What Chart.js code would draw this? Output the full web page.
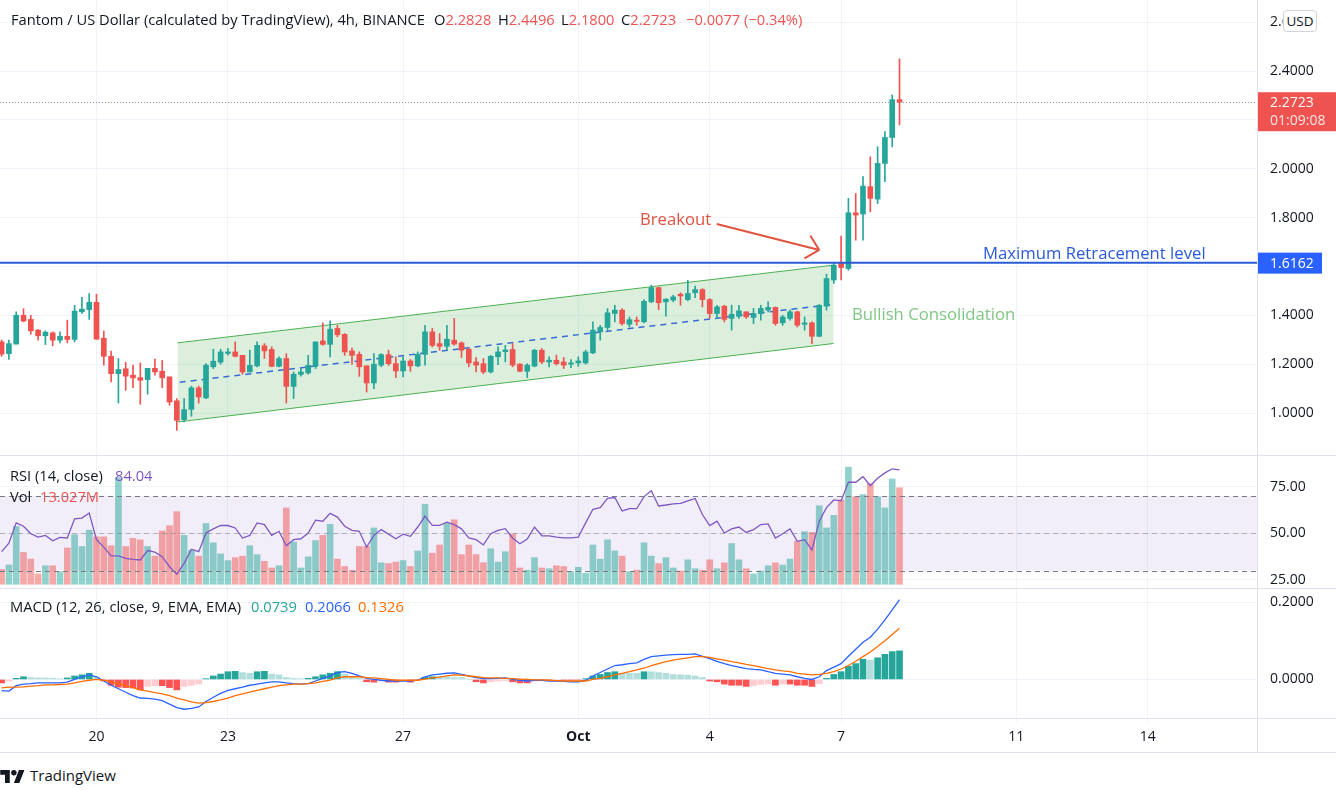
<!DOCTYPE html>
<html>
<head>
<meta charset="utf-8">
<title>Fantom / US Dollar 4h</title>
<script src="https://cdn.jsdelivr.net/npm/chart.js@4.4.0/dist/chart.umd.min.js"></script>
<style>
  html, body { margin: 0; padding: 0; background: #fff; }
  body { width: 1336px; height: 790px; position: relative; overflow: hidden;
         font-family: "Open Sans", sans-serif; color: #131722; }
  canvas { position: absolute; left: 0; }
  .t { position: absolute; white-space: nowrap; line-height: 20px; font-size: 14.7px; }
  .note { font-size: 16.7px; }
  .red { color: #ef5350; }
  .hl { position: absolute; left: 0; width: 1336px; height: 1px; background: #e0e3eb; }
  .vl { position: absolute; left: 1257px; top: 0; width: 1px; height: 752px; background: #e0e3eb; }
  #usd { position: absolute; left: 1283px; top: 10px; width: 32px; height: 20px; background: #fff;
         border: 1px solid #d1d4dc; border-radius: 4px; font-size: 13.5px; line-height: 20px; text-align: center; }
</style>
</head>
<body>
<canvas id="priceChart" width="1336" height="455" style="top:0"></canvas>
<canvas id="rsiChart" width="1336" height="133" style="top:455px"></canvas>
<canvas id="macdChart" width="1336" height="164" style="top:588px"></canvas>

<div class="hl" style="top:455px"></div>
<div class="hl" style="top:588px"></div>
<div class="hl" style="top:718px"></div>
<div class="hl" style="top:752px"></div>
<div class="vl"></div>
<div id="usd">USD</div>

<span class="t" style="left:11px;top:9px">Fantom / US Dollar (calculated by TradingView), 4h, BINANCE</span>
<span class="t" style="left:434px;top:9px">O<span class="red">2.2828</span></span>
<span class="t" style="left:498px;top:9px">H<span class="red">2.4496</span></span>
<span class="t" style="left:561px;top:9px">L<span class="red">2.1800</span></span>
<span class="t" style="left:621px;top:9px">C<span class="red">2.2723</span></span>
<span class="t red" style="left:686px;top:9px">&minus;0.0077 (&minus;0.34%)</span>

<span class="t note" style="left:640px;top:209px;color:#e0533f">Breakout</span>
<span class="t note" style="left:983px;top:243px;color:#2a5bd7">Maximum Retracement level</span>
<span class="t note" style="left:852px;top:304px;color:#81c784">Bullish Consolidation</span>

<span class="t" style="left:10px;top:465px">RSI (14, close)</span>
<span class="t" style="left:115px;top:465px;color:#7e57c2">84.04</span>
<span class="t" style="left:10px;top:486px">Vol</span>
<span class="t red" style="left:40px;top:486px">13.027M</span>
<span class="t" style="left:10px;top:596px">MACD (12, 26, close, 9, EMA, EMA)</span>
<span class="t" style="left:251px;top:596px;color:#26a69a">0.0739</span>
<span class="t" style="left:305px;top:596px;color:#2962ff">0.2066</span>
<span class="t" style="left:358px;top:596px;color:#ff6d00">0.1326</span>

<svg style="position:absolute;left:0;top:768px" width="25" height="15" viewBox="0 0 36 22">
  <path d="M14 22H7V10H0V3h14v19zM28 22h-8l7.5-19h8L28 22z" fill="#131722"/>
  <circle cx="20" cy="7" r="4" fill="#131722"/>
</svg>
<span class="t" style="left:30px;top:765px;font-size:15px">TradingView</span>

<script>
// 4h candles, index 0 = 20 Sep 00:00
var startIdx = -13;
var opens = [
  1.292, 1.244, 1.283, 1.401, 1.384, 1.340, 1.317, 1.329, 1.299, 1.315,
  1.302, 1.415, 1.424, 1.454, 1.307, 1.233, 1.162, 1.182, 1.156, 1.146,
  1.138, 1.184, 1.172, 1.149, 1.051, 0.974, 1.016, 1.104, 1.063, 1.190,
  1.209, 1.245, 1.251, 1.237, 1.169, 1.194, 1.276, 1.261, 1.192, 1.224,
  1.110, 1.159, 1.165, 1.192, 1.296, 1.282, 1.347, 1.323, 1.255, 1.241,
  1.194, 1.124, 1.197, 1.240, 1.203, 1.173, 1.214, 1.194, 1.241, 1.333,
  1.285, 1.274, 1.299, 1.288, 1.262, 1.210, 1.203, 1.169, 1.231, 1.252,
  1.261, 1.201, 1.172, 1.193, 1.258, 1.210, 1.217, 1.210, 1.201, 1.206,
  1.206, 1.247, 1.333, 1.351, 1.408, 1.422, 1.364, 1.381, 1.374, 1.456,
  1.514, 1.456, 1.463, 1.487, 1.465, 1.493, 1.506, 1.465, 1.408, 1.438,
  1.388, 1.397, 1.415, 1.392, 1.408, 1.422, 1.433, 1.370, 1.388, 1.415,
  1.364, 1.370, 1.315, 1.438, 1.545, 1.615, 1.592, 1.820, 1.815, 1.927,
  1.876, 2.022, 2.128, 2.2828
];
var highs = [
  1.300, 1.299, 1.415, 1.428, 1.401, 1.343, 1.337, 1.333, 1.333, 1.381,
  1.442, 1.474, 1.490, 1.487, 1.336, 1.254, 1.224, 1.209, 1.197, 1.206,
  1.184, 1.222, 1.216, 1.149, 1.060, 1.060, 1.111, 1.111, 1.203, 1.262,
  1.262, 1.265, 1.292, 1.237, 1.258, 1.292, 1.285, 1.272, 1.231, 1.244,
  1.169, 1.183, 1.237, 1.292, 1.370, 1.378, 1.360, 1.326, 1.267, 1.251,
  1.194, 1.244, 1.244, 1.258, 1.231, 1.231, 1.220, 1.251, 1.360, 1.347,
  1.326, 1.360, 1.388, 1.292, 1.265, 1.228, 1.224, 1.237, 1.272, 1.278,
  1.285, 1.203, 1.203, 1.262, 1.265, 1.231, 1.238, 1.228, 1.220, 1.231,
  1.258, 1.374, 1.360, 1.428, 1.442, 1.428, 1.394, 1.394, 1.465, 1.524,
  1.516, 1.469, 1.483, 1.493, 1.544, 1.520, 1.510, 1.469, 1.442, 1.442,
  1.442, 1.442, 1.415, 1.429, 1.442, 1.456, 1.435, 1.401, 1.422, 1.418,
  1.394, 1.374, 1.445, 1.569, 1.613, 1.725, 1.879, 1.899, 1.968, 2.049,
  2.090, 2.152, 2.302, 2.4496
];
var lows = [
  1.233, 1.220, 1.283, 1.374, 1.323, 1.299, 1.281, 1.276, 1.288, 1.288,
  1.292, 1.408, 1.384, 1.303, 1.197, 1.128, 1.042, 1.094, 1.105, 1.037,
  1.078, 1.156, 1.105, 1.033, 0.930, 0.965, 0.988, 1.042, 1.060, 1.183,
  1.201, 1.238, 1.231, 1.160, 1.169, 1.190, 1.224, 1.190, 1.190, 1.042,
  1.060, 1.152, 1.160, 1.183, 1.278, 1.231, 1.313, 1.237, 1.201, 1.151,
  1.087, 1.101, 1.190, 1.196, 1.146, 1.149, 1.172, 1.190, 1.197, 1.271,
  1.258, 1.258, 1.278, 1.228, 1.190, 1.169, 1.162, 1.165, 1.199, 1.210,
  1.190, 1.169, 1.146, 1.190, 1.203, 1.190, 1.197, 1.183, 1.187, 1.192,
  1.201, 1.244, 1.299, 1.340, 1.374, 1.360, 1.353, 1.360, 1.370, 1.452,
  1.424, 1.397, 1.456, 1.442, 1.460, 1.473, 1.435, 1.388, 1.388, 1.374,
  1.340, 1.388, 1.388, 1.367, 1.381, 1.415, 1.360, 1.360, 1.381, 1.353,
  1.340, 1.285, 1.313, 1.422, 1.531, 1.545, 1.585, 1.708, 1.708, 1.824,
  1.858, 1.947, 2.090, 2.1800
];
var closes = [
  1.242, 1.285, 1.401, 1.377, 1.337, 1.317, 1.332, 1.299, 1.315, 1.302,
  1.418, 1.426, 1.454, 1.303, 1.233, 1.162, 1.179, 1.152, 1.145, 1.135,
  1.184, 1.169, 1.145, 1.046, 0.971, 1.015, 1.104, 1.067, 1.197, 1.213,
  1.251, 1.251, 1.233, 1.169, 1.196, 1.278, 1.255, 1.192, 1.224, 1.110,
  1.160, 1.169, 1.196, 1.292, 1.282, 1.344, 1.321, 1.251, 1.237, 1.190,
  1.124, 1.201, 1.240, 1.203, 1.173, 1.214, 1.194, 1.241, 1.333, 1.278,
  1.274, 1.303, 1.283, 1.258, 1.206, 1.197, 1.169, 1.233, 1.251, 1.259,
  1.197, 1.172, 1.197, 1.258, 1.210, 1.217, 1.203, 1.197, 1.206, 1.214,
  1.251, 1.340, 1.351, 1.411, 1.422, 1.367, 1.383, 1.376, 1.458, 1.514,
  1.452, 1.467, 1.476, 1.480, 1.490, 1.506, 1.465, 1.408, 1.435, 1.384,
  1.405, 1.419, 1.394, 1.408, 1.429, 1.433, 1.367, 1.394, 1.415, 1.360,
  1.370, 1.315, 1.442, 1.551, 1.606, 1.596, 1.820, 1.811, 1.929, 1.879,
  2.022, 2.128, 2.2828, 2.2723
];
// volume in millions
var volumes = [
  2.0, 2.6, 7.8, 4.3, 3.4, 1.4, 2.5, 2.5, 1.7, 4.9,
  6.7, 5.1, 7.3, 6.4, 6.4, 5.2, 14.4, 5.1, 6.2, 6.0,
  5.1, 3.8, 7.2, 7.9, 9.8, 6.6, 4.6, 3.8, 8.2, 5.6,
  4.1, 3.2, 3.6, 3.8, 5.2, 4.0, 3.1, 2.2, 2.5, 10.3,
  5.7, 2.2, 3.7, 5.9, 6.6, 8.1, 3.4, 2.4, 1.9, 5.1,
  5.1, 7.6, 2.9, 2.8, 3.0, 3.2, 2.4, 4.5, 10.8, 4.2,
  5.3, 8.2, 8.7, 4.0, 5.3, 4.0, 2.9, 4.8, 3.0, 4.4,
  6.8, 2.2, 1.9, 3.6, 2.2, 2.1, 2.5, 2.4, 1.7, 2.3,
  1.5, 5.3, 3.4, 6.0, 4.5, 3.8, 1.7, 1.9, 5.6, 3.8,
  2.8, 3.6, 2.2, 1.8, 3.3, 2.1, 1.9, 3.3, 2.1, 2.9,
  5.5, 3.3, 2.1, 1.4, 1.8, 2.5, 2.9, 2.6, 3.4, 5.8,
  7.1, 7.0, 10.6, 7.6, 9.3, 11.4, 15.8, 11.8, 12.1, 13.6,
  11.8, 10.3, 14.2, 13.027
];
var rsiValues = [
  40.2, 44.7, 55.6, 53.8, 49.8, 48.0, 48.9, 46.0, 47.8, 47.5,
  57.8, 58.2, 60.9, 46.6, 42.6, 37.9, 37.9, 36.6, 36.1, 35.7,
  40.8, 39.9, 37.5, 32.1, 28.1, 33.9, 41.5, 40.2, 50.2, 52.4,
  54.2, 54.2, 52.9, 47.5, 48.9, 55.6, 54.7, 48.9, 51.1, 43.3,
  46.6, 47.1, 50.2, 57.1, 56.5, 60.7, 58.7, 53.8, 51.6, 51.1,
  42.6, 48.9, 52.0, 49.6, 47.1, 49.6, 48.4, 53.4, 59.2, 54.3,
  54.3, 56.0, 54.7, 52.4, 47.5, 46.6, 43.8, 49.8, 51.6, 52.5,
  47.5, 44.4, 46.9, 53.3, 48.7, 48.6, 48.0, 47.6, 47.6, 48.0,
  55.6, 62.9, 63.8, 68.7, 69.2, 62.0, 63.2, 63.2, 69.7, 72.8,
  64.7, 65.2, 65.8, 66.1, 67.4, 68.7, 60.1, 54.2, 56.5, 50.2,
  52.4, 53.4, 50.5, 52.0, 54.7, 55.1, 47.5, 49.8, 52.4, 45.7,
  46.6, 41.1, 56.5, 63.8, 67.9, 67.4, 77.4, 77.4, 80.4, 75.5,
  79.5, 82.4, 84.6, 84.04
];
var macdValues = [
  -0.029, -0.030, -0.016, -0.012, -0.011, -0.009, -0.009, -0.009, -0.009, -0.007,
  0.000, 0.007, 0.012, 0.007, -0.004, -0.015, -0.024, -0.033, -0.042, -0.048,
  -0.049, -0.051, -0.055, -0.064, -0.073, -0.077, -0.075, -0.071, -0.057, -0.046,
  -0.036, -0.028, -0.024, -0.020, -0.015, -0.012, -0.009, -0.006, -0.006, -0.009,
  -0.011, -0.012, -0.011, -0.004, 0.003, 0.009, 0.018, 0.020, 0.016, 0.009,
  0.003, 0.000, -0.002, -0.004, -0.004, -0.004, -0.004, -0.002, 0.007, 0.012,
  0.014, 0.016, 0.017, 0.013, 0.009, 0.005, 0.002, 0.002, 0.003, 0.004,
  0.000, -0.002, -0.004, -0.002, -0.002, -0.004, -0.004, -0.005, -0.006, -0.006,
  -0.002, 0.009, 0.018, 0.027, 0.036, 0.038, 0.041, 0.043, 0.052, 0.059,
  0.061, 0.063, 0.064, 0.065, 0.065, 0.066, 0.060, 0.054, 0.047, 0.041,
  0.036, 0.032, 0.028, 0.026, 0.025, 0.020, 0.016, 0.014, 0.012, 0.007,
  0.003, 0.000, 0.007, 0.023, 0.032, 0.041, 0.060, 0.078, 0.096, 0.109,
  0.130, 0.154, 0.180, 0.2066
];
var signalValues = [
  -0.022, -0.020, -0.020, -0.019, -0.017, -0.016, -0.014, -0.014, -0.013, -0.012,
  -0.009, -0.005, -0.002, 0.000, -0.002, -0.006, -0.011, -0.016, -0.021, -0.027,
  -0.030, -0.034, -0.037, -0.042, -0.048, -0.053, -0.058, -0.061, -0.060, -0.057,
  -0.053, -0.048, -0.042, -0.037, -0.033, -0.028, -0.024, -0.020, -0.016, -0.014,
  -0.012, -0.012, -0.011, -0.009, -0.005, -0.002, 0.004, 0.007, 0.007, 0.007,
  0.005, 0.004, 0.002, 0.000, -0.002, -0.002, -0.002, -0.002, 0.001, 0.004,
  0.006, 0.009, 0.012, 0.011, 0.009, 0.007, 0.005, 0.004, 0.004, 0.003,
  0.002, 0.001, 0.000, -0.001, -0.001, -0.002, -0.003, -0.004, -0.004, -0.004,
  -0.004, 0.000, 0.003, 0.007, 0.012, 0.016, 0.020, 0.025, 0.029, 0.036,
  0.041, 0.046, 0.050, 0.053, 0.056, 0.059, 0.059, 0.057, 0.053, 0.050,
  0.046, 0.043, 0.039, 0.036, 0.032, 0.028, 0.025, 0.022, 0.020, 0.016,
  0.014, 0.012, 0.013, 0.016, 0.020, 0.027, 0.036, 0.047, 0.059, 0.071,
  0.085, 0.100, 0.116, 0.1326
];
var histValues = [
  -0.009, -0.004, 0.003, 0.007, 0.005, 0.004, 0.004, 0.003, 0.002, 0.004,
  0.009, 0.012, 0.016, 0.007, -0.004, -0.015, -0.020, -0.021, -0.022, -0.027,
  -0.018, -0.016, -0.016, -0.021, -0.027, -0.018, -0.015, -0.012, 0.002, 0.009,
  0.014, 0.020, 0.021, 0.018, 0.016, 0.020, 0.021, 0.014, 0.012, 0.005,
  0.003, 0.002, 0.003, 0.007, 0.012, 0.016, 0.020, 0.014, 0.007, 0.003,
  -0.006, -0.007, -0.004, -0.007, -0.007, -0.004, -0.007, -0.002, 0.006, 0.007,
  0.007, 0.007, 0.005, 0.005, 0.001, -0.006, -0.009, -0.006, -0.004, -0.003,
  -0.006, -0.009, -0.009, -0.004, -0.003, -0.003, -0.002, -0.002, -0.002, -0.002,
  0.002, 0.009, 0.013, 0.018, 0.020, 0.016, 0.016, 0.016, 0.020, 0.020,
  0.018, 0.016, 0.013, 0.012, 0.011, 0.009, 0.005, -0.004, -0.006, -0.012,
  -0.015, -0.015, -0.018, -0.016, -0.013, -0.012, -0.015, -0.012, -0.012, -0.015,
  -0.015, -0.018, -0.011, 0.003, 0.013, 0.020, 0.034, 0.041, 0.052, 0.050,
  0.056, 0.065, 0.072, 0.0739
];

var dayTickIdx = [0, 18, 42, 66, 84, 102, 126, 144];
var dayTickLabels = ['20', '23', '27', 'Oct', '4', '7', '11', '14'];
var priceTicks = [1.0, 1.2, 1.4, 1.6, 1.8, 2.0, 2.2, 2.4, 2.6];
var rsiTicks = [25, 50, 75];
var rsiBands = [70, 50, 30];
var macdTicks = [0, 0.2];

// drawings on the price pane (candle index, price)
var retraceLevel = 1.6162;
var channelTop = [{x: 11.1, y: 1.288}, {x: 100.96, y: 1.606}];
var channelBottom = [{x: 11.1, y: 0.9645}, {x: 100.96, y: 1.2854}];
var channelMid = [{x: 11.4, y: 1.127}, {x: 100.96, y: 1.446}];
var breakoutArrow = [{x: 84.96, y: 1.774}, {x: 99.0, y: 1.668}];

var UP = '#26a69a', DOWN = '#ef5350';
var xMin = -13.22, xMax = 158.97;

Chart.defaults.font.family = "'Open Sans', sans-serif";
Chart.defaults.font.size = 14;
Chart.defaults.color = '#131722';

var xs = closes.map(function(c, k){ return startIdx + k; });
var isUp = closes.map(function(c, k){ return c >= opens[k]; });

function xScale(showLabels) {
  return {
    type: 'linear', min: xMin, max: xMax, offset: false,
    afterBuildTicks: function(s){ s.ticks = dayTickIdx.map(function(v){ return {value: v}; }); },
    grid: { color: '#f0f3fa', drawTicks: false, offset: false },
    border: { display: false },
    ticks: {
      display: showLabels, autoSkip: false, maxRotation: 0, padding: 7, color: '#131722',
      font: function(ctx){ return { size: 14, weight: (ctx.tick && ctx.tick.value === 66) ? 'bold' : 'normal' }; },
      callback: function(v){ return dayTickLabels[dayTickIdx.indexOf(v)]; }
    },
    afterFit: function(s){ s.height = showLabels ? 30 : 0; s.paddingLeft = 0; s.paddingRight = 0; }
  };
}
function yScale(min, max, tickVals, digits) {
  return {
    position: 'right', min: min, max: max,
    afterBuildTicks: function(s){ s.ticks = tickVals.map(function(v){ return {value: v}; }); },
    grid: { color: '#f0f3fa', drawTicks: false },
    border: { display: false },
    ticks: { padding: 13, color: '#131722', callback: function(v){ return v.toFixed(digits); } },
    afterFit: function(s){ s.width = 79; s.paddingTop = 0; s.paddingBottom = 0; }
  };
}
var base = {
  responsive: false, animation: false, events: [],
  layout: { padding: 0 },
  plugins: { legend: { display: false }, tooltip: { enabled: false } }
};

// ---------- price pane ----------
var priceMarks = {
  id: 'priceMarks',
  afterDatasetsDraw: function(chart) {
    var ctx = chart.ctx, a = chart.chartArea, x = chart.scales.x, y = chart.scales.y;
    ctx.save();
    var py = Math.round(y.getPixelForValue(closes[closes.length - 1])) + 0.5;
    ctx.strokeStyle = '#9598a1'; ctx.lineWidth = 1; ctx.setLineDash([1, 2]);
    ctx.beginPath(); ctx.moveTo(a.left, py); ctx.lineTo(a.right, py); ctx.stroke();
    ctx.setLineDash([]);
    var ry = y.getPixelForValue(retraceLevel);
    ctx.strokeStyle = '#2a5bd7'; ctx.lineWidth = 2;
    ctx.beginPath(); ctx.moveTo(a.left, ry); ctx.lineTo(a.right, ry); ctx.stroke();
    var x0 = x.getPixelForValue(breakoutArrow[0].x), y0 = y.getPixelForValue(breakoutArrow[0].y);
    var x1 = x.getPixelForValue(breakoutArrow[1].x), y1 = y.getPixelForValue(breakoutArrow[1].y);
    var ang = Math.atan2(y1 - y0, x1 - x0);
    ctx.strokeStyle = '#e0533f'; ctx.lineWidth = 2;
    ctx.beginPath(); ctx.moveTo(x0, y0); ctx.lineTo(x1, y1);
    [-0.77, 0.77].forEach(function(d){
      ctx.moveTo(x1, y1);
      ctx.lineTo(x1 - 17 * Math.cos(ang + d), y1 - 17 * Math.sin(ang + d));
    });
    ctx.stroke();
    ctx.restore();
  },
  afterDraw: function(chart) {
    var ctx = chart.ctx, a = chart.chartArea, y = chart.scales.y;
    ctx.save();
    ctx.font = "14px 'Open Sans', sans-serif";
    ctx.textBaseline = 'middle'; ctx.textAlign = 'left';
    var last = closes[closes.length - 1];
    var py = y.getPixelForValue(last);
    ctx.fillStyle = '#ef5350';
    ctx.fillRect(a.right, py - 10, 1336 - a.right, 39);
    ctx.fillStyle = '#fff';
    ctx.fillText(last.toFixed(4), a.right + 13, py + 1);
    ctx.fillStyle = 'rgba(255,255,255,0.85)';
    ctx.fillText('01:09:08', a.right + 13, py + 19);
    var ry = y.getPixelForValue(retraceLevel);
    ctx.fillStyle = '#2962ff';
    ctx.fillRect(a.right, ry - 10, 65, 21);
    ctx.fillStyle = '#fff';
    ctx.fillText(retraceLevel.toFixed(4), a.right + 13, ry + 1);
    ctx.restore();
  }
};

new Chart(document.getElementById('priceChart'), {
  type: 'bar',
  data: {
    datasets: [
      { type: 'line', data: channelTop, borderColor: '#4caf50', borderWidth: 1, pointRadius: 0, fill: false, order: 5 },
      { type: 'line', data: channelBottom, borderColor: '#4caf50', borderWidth: 1, pointRadius: 0,
        fill: '-1', backgroundColor: 'rgba(76,175,80,0.2)', order: 4 },
      { type: 'line', data: channelMid, borderColor: '#3a6ad6', borderWidth: 1.5, borderDash: [6, 5], pointRadius: 0, fill: false, order: 3 },
      { data: xs.map(function(v, k){ return {x: v, y: [lows[k], highs[k]]}; }),
        backgroundColor: isUp.map(function(u){ return u ? UP : DOWN; }),
        barThickness: 1, grouped: false, order: 2 },
      { data: xs.map(function(v, k){ return {x: v, y: [opens[k], closes[k]]}; }),
        backgroundColor: isUp.map(function(u){ return u ? UP : DOWN; }),
        barThickness: 5, minBarLength: 1, grouped: false, order: 1 }
    ]
  },
  options: Object.assign({}, base, {
    scales: { x: xScale(false), y: yScale(0.8294, 2.6904, priceTicks, 4) }
  }),
  plugins: [priceMarks]
});

// ---------- RSI + volume pane ----------
var rsiBand = {
  id: 'rsiBand',
  beforeDatasetsDraw: function(chart) {
    var ctx = chart.ctx, a = chart.chartArea, y = chart.scales.y;
    var t = y.getPixelForValue(rsiBands[0]), b = y.getPixelForValue(rsiBands[2]);
    ctx.save();
    ctx.fillStyle = 'rgba(126,87,194,0.1)';
    ctx.fillRect(a.left, t, a.right - a.left, b - t);
    ctx.restore();
  },
  afterDatasetsDraw: function(chart) {
    var ctx = chart.ctx, a = chart.chartArea, y = chart.scales.y;
    ctx.save();
    ctx.setLineDash([5, 4]); ctx.lineWidth = 1;
    rsiBands.forEach(function(v, k){
      var p = Math.round(y.getPixelForValue(v)) + 0.5;
      ctx.strokeStyle = k === 1 ? 'rgba(120,123,134,0.5)' : '#787b86';
      ctx.beginPath(); ctx.moveTo(a.left, p); ctx.lineTo(a.right, p); ctx.stroke();
    });
    ctx.restore();
  }
};

new Chart(document.getElementById('rsiChart'), {
  type: 'bar',
  data: {
    datasets: [
      { type: 'line', data: xs.map(function(v, k){ return {x: v, y: rsiValues[k]}; }),
        borderColor: '#7e57c2', borderWidth: 1.3, pointRadius: 0, yAxisID: 'y', order: 0 },
      { data: xs.map(function(v, k){ return {x: v, y: volumes[k]}; }),
        backgroundColor: isUp.map(function(u){ return u ? 'rgba(38,166,154,0.5)' : 'rgba(239,83,80,0.5)'; }),
        barThickness: 6, yAxisID: 'yv', order: 1 }
    ]
  },
  options: Object.assign({}, base, {
    scales: {
      x: xScale(false),
      y: yScale(20.7, 92.0, rsiTicks, 2),
      yv: { display: false, min: -0.5, max: 17.44 }
    }
  }),
  plugins: [rsiBand]
});

// ---------- MACD pane ----------
var histColors = histValues.map(function(h, k){
  var prev = k > 0 ? histValues[k - 1] : h;
  if (h >= 0) return prev < h ? '#26a69a' : '#b2dfdb';
  return prev < h ? '#ffcdd2' : '#ff5252';
});

new Chart(document.getElementById('macdChart'), {
  type: 'bar',
  data: {
    datasets: [
      { data: xs.map(function(v, k){ return {x: v, y: histValues[k]}; }),
        backgroundColor: histColors, barThickness: 6, order: 2 },
      { type: 'line', data: xs.map(function(v, k){ return {x: v, y: macdValues[k]}; }),
        borderColor: '#2962ff', borderWidth: 1.3, pointRadius: 0, order: 1 },
      { type: 'line', data: xs.map(function(v, k){ return {x: v, y: signalValues[k]}; }),
        borderColor: '#ff6d00', borderWidth: 1.3, pointRadius: 0, order: 0 }
    ]
  },
  options: Object.assign({}, base, {
    scales: { x: xScale(true), y: yScale(-0.110, 0.2365, macdTicks, 4) }
  })
});
</script>
</body>
</html>
